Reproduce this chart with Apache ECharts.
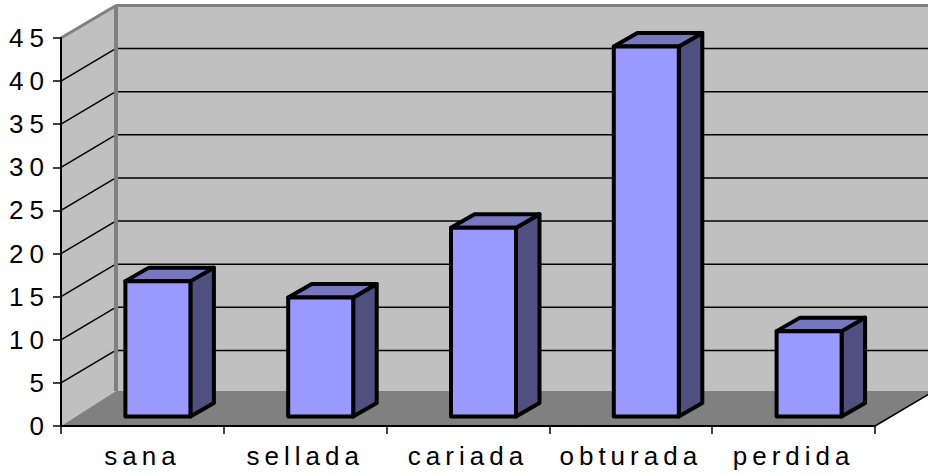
<!DOCTYPE html>
<html><head><meta charset="utf-8">
<style>html,body{margin:0;padding:0;background:#fff}#c{width:928px;height:474px}
#c svg text{letter-spacing:5px}
#c svg text[text-anchor="end"]{letter-spacing:6px}</style>
<script src="https://cdn.jsdelivr.net/npm/echarts@6/dist/echarts.min.js"></script>
</head><body><div id="c"></div>
<script>
const categories = ['sana','sellada','cariada','obturada','perdida'];
const values = [15.7,13.8,21.9,42.9,9.9];
const yTicks = [0,5,10,15,20,25,30,35,40,45];

const DX=55, DY=-32.5, FLOOR_DY=-35, BAR_DX=23.5, BAR_DY=-13.5, BAR_OX=15.5, BAR_OY=-9.5, BAR_W=65;
const chart = echarts.init(document.getElementById('c'),null,{renderer:'svg'});

function frame(api){
  const bw=api.size([1,0])[0];
  const o=api.coord([0,0]); const l=o[0]-bw/2;
  const r=api.coord([categories.length-1,0])[0]+bw/2;
  return {l,r,bw};
}
function wallsItem(params,api){
  const f=frame(api);
  const y0=api.coord([0,0])[1], yt=api.coord([0,45])[1];
  const l=f.l,r=f.r;
  return {type:'group',children:[
    {type:'polygon',shape:{points:[[l,y0],[l,yt],[l+DX,yt+DY],[l+DX,y0+FLOOR_DY]]},style:{fill:'#c0c0c0'}},
    {type:'polygon',shape:{points:[[l+DX,y0+FLOOR_DY],[l+DX,yt+DY],[r+DX,yt+DY],[r+DX,y0+FLOOR_DY]]},style:{fill:'#c0c0c0'}},
    {type:'polygon',shape:{points:[[l,y0],[l+DX,y0+FLOOR_DY],[r+DX,y0+FLOOR_DY],[r+DX,y0+DY],[r,y0]]},style:{fill:'#808080'}},
    {type:'line',shape:{x1:l,y1:yt,x2:l+DX,y2:yt+DY},style:{stroke:'#808080',lineWidth:3}},
    {type:'line',shape:{x1:l+DX,y1:yt+DY,x2:r+DX,y2:yt+DY},style:{stroke:'#808080',lineWidth:3}},
    {type:'line',shape:{x1:l+DX,y1:yt+DY,x2:l+DX,y2:y0+FLOOR_DY},style:{stroke:'#808080',lineWidth:4}},
    {type:'line',shape:{x1:r,y1:y0,x2:r+DX,y2:y0+DY},style:{stroke:'#000',lineWidth:1.5}}
  ]};
}
function gridItem(params,api){
  const f=frame(api);
  const y=api.coord([0,api.value(0)])[1];
  const s={stroke:'#000',lineWidth:1.5};
  return {type:'group',children:[
    {type:'line',shape:{x1:f.l,y1:y,x2:f.l+DX-2,y2:y+DY+1},style:s},
    {type:'line',shape:{x1:f.l+DX+2,y1:y+DY,x2:f.r+DX,y2:y+DY},style:s}
  ]};
}
function barItem(params,api){
  const i=api.value(0);
  const c=api.coord([i,api.value(1)]), b=api.coord([i,0]);
  const x0=c[0]-BAR_W/2+BAR_OX, x1=x0+BAR_W, yt=c[1]+BAR_OY, yb=b[1]+BAR_OY;
  const st=(fill)=>({fill,stroke:'#000',lineWidth:4,lineJoin:'round'});
  return {type:'group',children:[
    {type:'polygon',shape:{points:[[x1,yt],[x1+BAR_DX,yt+BAR_DY],[x1+BAR_DX,yb+BAR_DY],[x1,yb]]},style:st('#4f4f80')},
    {type:'polygon',shape:{points:[[x0,yt],[x0+BAR_DX,yt+BAR_DY],[x1+BAR_DX,yt+BAR_DY],[x1,yt]]},style:st('#7777c0')},
    {type:'polygon',shape:{points:[[x0,yt],[x1,yt],[x1,yb],[x0,yb]]},style:st('#9999ff')}
  ]};
}
const txt={color:'#000',fontFamily:'"Liberation Sans",Arial,sans-serif',fontSize:26};
const ax={lineStyle:{color:'#000',width:2}};
chart.setOption({
  animation:false,
  grid:{left:61,right:53,top:38,bottom:48,containLabel:false},
  xAxis:{type:'category',data:categories,z:6,
    axisLine:{show:true,onZero:false,lineStyle:ax.lineStyle},
    axisTick:{show:true,alignWithLabel:false,length:8,lineStyle:{color:'#000',width:1.5}},
    axisLabel:{...txt,margin:17,interval:0},splitLine:{show:false}},
  yAxis:{type:'value',min:0,max:45,interval:5,z:6,
    axisLine:{show:true,lineStyle:ax.lineStyle},
    axisTick:{show:true,length:8,lineStyle:{color:'#000',width:1.5}},
    axisLabel:{...txt,margin:11,formatter:v=>yTicks.includes(v)?String(v):''},splitLine:{show:false}},
  series:[
    {type:'custom',z:1,clip:false,silent:true,coordinateSystem:'cartesian2d',data:[[0,0]],renderItem:wallsItem},
    {type:'custom',z:2,clip:false,silent:true,data:yTicks.filter(v=>v>0&&v<45).map(v=>[v]),encode:{y:0},renderItem:gridItem},
    {type:'custom',z:3,clip:false,silent:true,data:values.map((v,i)=>[i,v]),encode:{x:0,y:1},renderItem:barItem}
  ]
});
</script></body></html>
